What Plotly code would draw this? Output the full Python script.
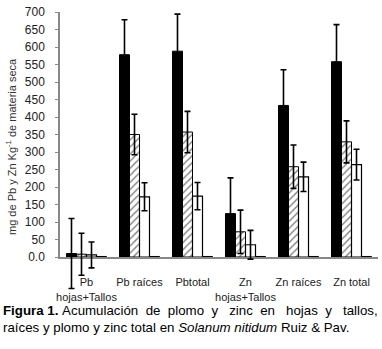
import plotly.graph_objects as go

categories = ["Pb<br>hojas+Tallos", "Pb raíces", "Pbtotal", "Zn<br>hojas+Tallos", "Zn raíces", "Zn total"]
series1 = [10, 578, 588, 124, 433, 558]
err1 = [100, 100, 106, 102, 102, 106]
series2 = [8, 350, 357, 72, 258, 329]
err2 = [60, 58, 59, 62, 62, 60]
series3 = [6, 172, 174, 35, 229, 264]
err3 = [37, 40, 39, 41, 42, 44]
series4 = [1.5, 1.5, 1.5, 1.5, 1.5, 1.5]
ytick_vals = [0, 50, 100, 150, 200, 250, 300, 350, 400, 450, 500, 550, 600, 650, 700]
ytick_text = ["0.0", "50", "100", "150", "200", "250", "300", "350", "400", "450", "500", "550", "600", "650", "700"]

FONT = "Liberation Sans, Arial, sans-serif"

# geometry: whole plot area from y=12 to y=300 px; bar axis occupies top 245 px
TOP, BOT_BARS, BOT_ALL = 12, 257, 300
H_ALL = BOT_ALL - TOP
YMAX = 700
dom_low = (BOT_ALL - BOT_BARS) / H_ALL
units_per_px = YMAX / (BOT_BARS - TOP)
y2_min = YMAX - units_per_px * H_ALL

fig = go.Figure()
fig.add_trace(go.Bar(x=categories, y=series1, offsetgroup="a",
                     marker=dict(color="black", line=dict(color="black", width=1))))
fig.add_trace(go.Bar(x=categories, y=series2, offsetgroup="b",
                     marker=dict(color="white", line=dict(color="black", width=1),
                                 pattern=dict(shape="/", fgcolor="black", bgcolor="white", size=5, solidity=0.28))))
fig.add_trace(go.Bar(x=categories, y=series3, offsetgroup="c",
                     marker=dict(color="white", line=dict(color="black", width=1.2))))
fig.add_trace(go.Bar(x=categories, y=series4, offsetgroup="d",
                     marker=dict(color="white", line=dict(color="black", width=1))))

# error bars on a hidden, same-scale axis that extends below zero
eb = lambda arr: dict(type="data", array=arr, visible=True, color="black", thickness=1.6, width=3)
for vals, errs, grp in [(series1, err1, "a"), (series2, err2, "b"), (series3, err3, "c"), (series4, None, "d")]:
    fig.add_trace(go.Scatter(x=categories, y=vals, mode="markers", offsetgroup=grp, yaxis="y2",
                             marker=dict(size=1, opacity=0), cliponaxis=False, hoverinfo="skip",
                             error_y=eb(errs) if errs else dict(visible=False)))

fig.update_layout(
    width=382, height=349,
    margin=dict(l=60, r=4, t=TOP, b=349 - BOT_ALL),
    paper_bgcolor="white", plot_bgcolor="rgba(0,0,0,0)",
    barmode="group", bargap=0.245, bargroupgap=0,
    scattermode="group", scattergap=0.245,
    showlegend=False,
    font=dict(family=FONT, size=11, color="#222"),
    xaxis=dict(type="category", anchor="y", showline=True, linecolor="#888", linewidth=2,
               ticks="", showgrid=False, tickangle=0, ticklabelstandoff=14,
               tickfont=dict(size=11, color="#222"), range=[-0.5, 5.5]),
    yaxis=dict(domain=[dom_low, 1], range=[0, YMAX], tickvals=ytick_vals, ticktext=ytick_text,
               showline=True, linecolor="#888", linewidth=1.5, ticks="outside",
               ticklen=3, tickcolor="#888", ticklabelstandoff=8,
               showgrid=False, zeroline=False,
               tickfont=dict(size=12, color="#222")),
    yaxis2=dict(domain=[0, 1], range=[y2_min, YMAX], anchor="x", visible=False,
                showgrid=False, zeroline=False),
)

# y-axis title
fig.add_annotation(xref="paper", yref="paper", x=(11 - 60) / 318, y=(BOT_ALL - 147) / H_ALL,
                   xanchor="center", yanchor="middle", textangle=-90, showarrow=False, borderpad=0,
                   text="mg de Pb y Zn Kg<sup>-1</sup> de materia seca",
                   font=dict(family=FONT, size=11, color="#333"))

# caption
cap_lines = ["<b>Figura 1.</b>\u00a0Acumulación\u00a0 de\u00a0 plomo\u00a0 y\u00a0\u00a0 zinc\u00a0 en\u00a0\u00a0 hojas\u00a0 y\u00a0\u00a0 tallos,",
             "raíces y plomo y zinc total en <i>Solanum nitidum</i> Ruiz &amp; Pav."]
for i, line in enumerate(cap_lines):
    fig.add_annotation(xref="paper", yref="paper", x=(2 - 60) / 318,
                       y=(BOT_ALL - (310 + 17 * i)) / H_ALL,
                       xanchor="left", yanchor="middle", align="left", showarrow=False,
                       text=line, borderpad=0,
                       font=dict(family=FONT, size=13.3, color="black"))

fig.write_html("out.html", config={"displayModeBar": False},
               post_script="document.body.style.margin='0';")
